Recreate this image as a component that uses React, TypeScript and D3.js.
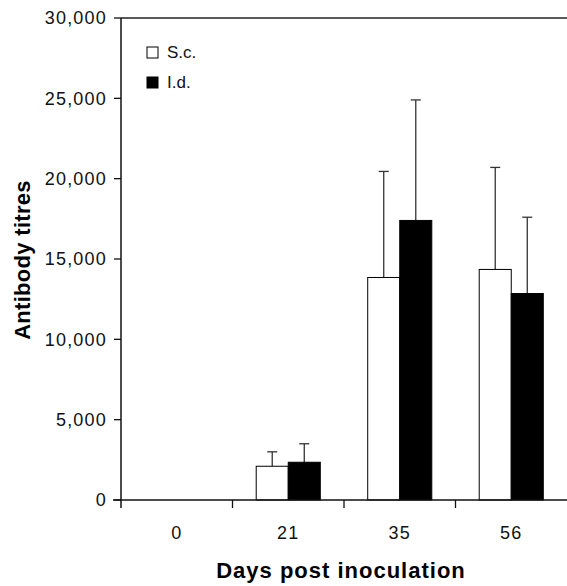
import React from "react";
import * as d3 from "d3";

const categories = ["0", "21", "35", "56"];
const seriesNames = ["S.c.", "I.d."];
const scMeans = [0, 2100, 13850, 14350];
const scErrors = [0, 900, 6600, 6350];
const idMeans = [0, 2350, 17400, 12850];
const idErrors = [0, 1150, 7500, 4750];
const yTicks = [0, 5000, 10000, 15000, 20000, 25000, 30000];

const W = 567;
const H = 586;
const left = 121;
const right = 567;
const top = 18;
const bottom = 500;
const font = "'Liberation Sans', Arial, sans-serif";

export default function App() {
  const x = d3.scaleBand<string>().domain(categories).range([left, right]).paddingInner(0).paddingOuter(0);
  const sub = d3.scaleBand<string>().domain(seriesNames).range([0, x.bandwidth()]).paddingInner(0).paddingOuter(0.74);
  const y = d3.scaleLinear().domain([0, 30000]).range([bottom, top]);
  const fmt = d3.format(",");

  const series = [
    { name: "S.c.", means: scMeans, errs: scErrors, fill: "#ffffff" },
    { name: "I.d.", means: idMeans, errs: idErrors, fill: "#000000" },
  ];

  const boundaries = categories.map((c) => (x(c) as number) + x.bandwidth()).filter((v) => v < right - 1);

  return (
    <div style={{ position: "absolute", left: 0, top: 0 }}>
      <svg width={W} height={H} style={{ display: "block", background: "#fff" }}>
        <rect x={0} y={0} width={W} height={H} fill="#fff" />
        {/* top frame */}
        <line x1={left} x2={right} y1={top} y2={top} stroke="#222" strokeWidth={1.3} />
        {/* bars */}
        {series.map((s) =>
          categories.map((c, i) => {
            const bx = (x(c) as number) + (sub(s.name) as number);
            const bw = sub.bandwidth();
            const v = s.means[i];
            if (v <= 0) return null;
            const cx = bx + bw / 2;
            const e = s.errs[i];
            return (
              <g key={s.name + c}>
                {e > 0 && (
                  <g stroke="#333" strokeWidth={1.3}>
                    <line x1={cx} x2={cx} y1={y(v)} y2={y(v + e)} />
                    <line x1={cx - 5} x2={cx + 5} y1={y(v + e)} y2={y(v + e)} />
                  </g>
                )}
                <rect x={bx} y={y(v)} width={bw} height={bottom - y(v)} fill={s.fill} stroke="#000" strokeWidth={1} />
              </g>
            );
          })
        )}
        {/* y axis */}
        <line x1={left} x2={left} y1={top} y2={bottom + 8} stroke="#111" strokeWidth={1.5} />
        {yTicks.map((t) => (
          <g key={t}>
            <line x1={left - 7} x2={left} y1={y(t)} y2={y(t)} stroke="#111" strokeWidth={1.3} />
            <text
              x={107}
              y={y(t)}
              dy="0.35em"
              textAnchor="end"
              fontFamily={font}
              fontSize={18}
              letterSpacing={1.2}
              fill="#111"
            >
              {fmt(t)}
            </text>
          </g>
        ))}
        {/* x axis */}
        <line x1={left - 8} x2={right} y1={bottom} y2={bottom} stroke="#111" strokeWidth={1.5} />
        {boundaries.map((b, i) => (
          <line key={i} x1={b} x2={b} y1={bottom} y2={bottom + 8} stroke="#111" strokeWidth={1.3} />
        ))}
        {categories.map((c) => (
          <text
            key={c}
            x={(x(c) as number) + x.bandwidth() / 2}
            y={533}
            dy="0.35em"
            textAnchor="middle"
            fontFamily={font}
            fontSize={18}
            letterSpacing={1.2}
            fill="#111"
          >
            {c}
          </text>
        ))}
        {/* axis titles */}
        <text
          x={341}
          y={578}
          textAnchor="middle"
          fontFamily={font}
          fontWeight="bold"
          fontSize={22}
          letterSpacing={1}
          fill="#000"
        >
          Days post inoculation
        </text>
        <text
          transform="translate(30,260) rotate(-90)"
          textAnchor="middle"
          fontFamily={font}
          fontWeight="bold"
          fontSize={22}
          letterSpacing={0.3}
          fill="#000"
        >
          Antibody titres
        </text>
        {/* legend */}
        {series.map((s, i) => (
          <g key={s.name} transform={`translate(147, ${47 + i * 30})`}>
            <rect x={0} y={0} width={11} height={11} fill={s.fill} stroke="#000" strokeWidth={1} />
            <text x={20} y={10.5} fontFamily={font} fontSize={17} fill="#111">
              {s.name}
            </text>
          </g>
        ))}
      </svg>
    </div>
  );
}
